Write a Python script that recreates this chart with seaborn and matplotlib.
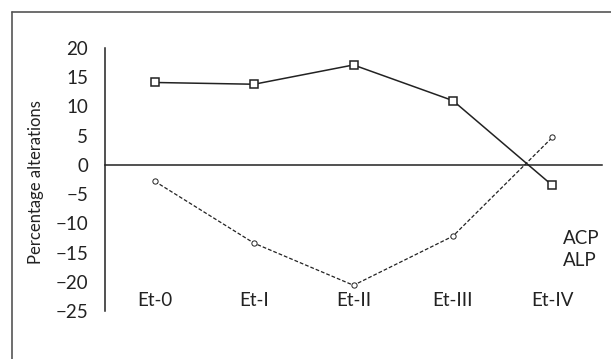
import numpy as np
import pandas as pd
import matplotlib
matplotlib.use("Agg")
import matplotlib.pyplot as plt
import seaborn as sns
from matplotlib.lines import Line2D

# values
stages = ["Et-0", "Et-I", "Et-II", "Et-III", "Et-IV"]
acp = [14.1, 13.8, 17.1, 11.0, -3.5]
alp = [-2.8, -13.4, -20.6, -12.2, 4.7]
y_ticks = [20, 15, 10, 5, 0, -5, -10, -15, -20, -25]

sns.set_style("white")
plt.rcParams["font.family"] = ["Lato", "DejaVu Sans"]
plt.rcParams["axes.unicode_minus"] = True

ink = "#222222"

df = pd.DataFrame({"pos": np.arange(len(stages)), "stage": stages, "ACP": acp, "ALP": alp})

fig = plt.figure(figsize=(6.11, 3.59), dpi=100)
ax = fig.add_axes([105 / 611, 1 - 311 / 359, 497 / 611, 263 / 359])

sns.lineplot(data=df, x="pos", y="ACP", ax=ax, color=ink, lw=1.1,
             marker="s", markersize=5.5, markerfacecolor="white",
             markeredgecolor=ink, markeredgewidth=1.1)
sns.lineplot(data=df, x="pos", y="ALP", ax=ax, color=ink, lw=0.9,
             linestyle=(0, (3, 1.6)), marker="o", markersize=3.8,
             markerfacecolor="white", markeredgecolor=ink, markeredgewidth=0.7)

ax.set_xlim(-0.5, len(stages) - 0.5)
ax.set_ylim(-25, 20)

# axes: left spine with inward ticks, x axis along zero
for side in ["top", "right"]:
    ax.spines[side].set_visible(False)
ax.spines["left"].set_color(ink)
ax.spines["left"].set_linewidth(1.1)
ax.spines["bottom"].set_position(("data", 0))
ax.spines["bottom"].set_color(ink)
ax.spines["bottom"].set_linewidth(1.1)

ax.set_yticks(y_ticks)
ax.set_yticklabels([str(t).replace("-", "\u2212") for t in y_ticks])
ax.tick_params(axis="y", direction="in", length=5, width=1.1, color=ink,
               pad=12, labelsize=13.5, labelcolor=ink)
ax.set_xticks(np.arange(len(stages) + 1) - 0.5)
ax.set_xticklabels([])
ax.tick_params(axis="x", direction="out", length=5, width=1.1, color=ink)

# stage names sit below the plot, not on the zero line
for i, s in enumerate(stages):
    ax.text(i, -23.2, s, ha="center", va="center", fontsize=13.5, color=ink)

ax.set_xlabel("")
ax.set_ylabel("Percentage alterations", fontsize=12, color=ink)
ax.yaxis.set_label_coords(-0.122, 0.49)

ax.text(4.11, -12.6, "ACP", ha="left", va="center", fontsize=13.5, color=ink)
ax.text(4.11, -16.4, "ALP", ha="left", va="center", fontsize=13.5, color=ink)

# frame around the figure (left and top edges visible)
fig.add_artist(Line2D([12 / 611, 12 / 611], [0, 1 - 12 / 359],
                      transform=fig.transFigure, color="#555555", lw=1.2))
fig.add_artist(Line2D([12 / 611, 1], [1 - 12 / 359, 1 - 12 / 359],
                      transform=fig.transFigure, color="#555555", lw=1.2))

fig.savefig("out.png", dpi=100)
